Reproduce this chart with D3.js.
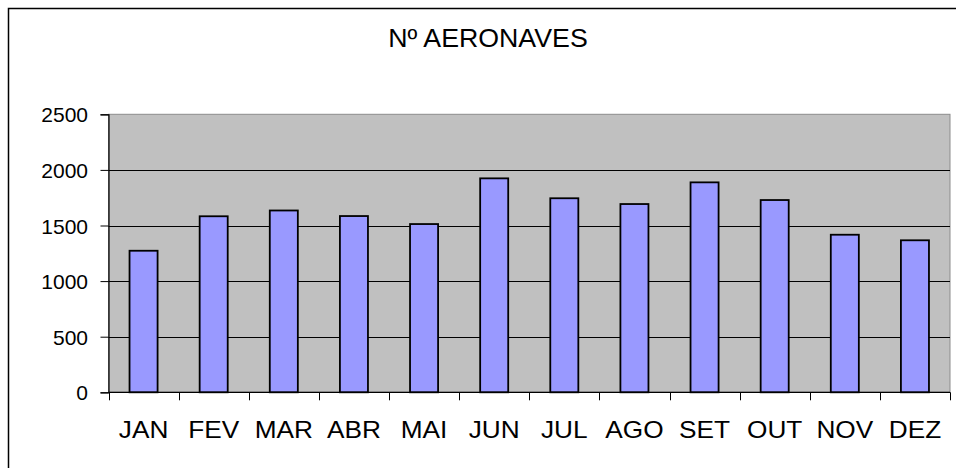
<!DOCTYPE html>
<html>
<head>
<meta charset="utf-8">
<script src="https://cdn.jsdelivr.net/npm/d3@7/dist/d3.min.js"></script>
<style>
  html, body { margin: 0; padding: 0; background: #fff; }
  svg { display: block; }
  text { font-family: "Liberation Sans", Arial, sans-serif; fill: #000; }
</style>
</head>
<body>
<svg id="chart" width="956" height="468"></svg>
<script>
const title = "Nº AERONAVES";
const months = ["JAN", "FEV", "MAR", "ABR", "MAI", "JUN", "JUL", "AGO", "SET", "OUT", "NOV", "DEZ"];
const aircraft = [1273, 1583, 1635, 1585, 1513, 1924, 1745, 1693, 1888, 1729, 1417, 1367];
const yTicks = [0, 500, 1000, 1500, 2000, 2500];

const svg = d3.select("#chart");
const W = 956, H = 468;
const plot = { left: 108.5, right: 950, top: 114.3, bottom: 392.3 };
const sx = 1.07; // horizontal text stretch seen in the reference

// outer frame
svg.append("rect")
  .attr("x", 8.5).attr("y", 8.5)
  .attr("width", W).attr("height", H)
  .attr("fill", "#fff").attr("stroke", "#000").attr("stroke-width", 1.5);

const x = d3.scaleBand().domain(months)
  .range([plot.left, plot.right])
  .paddingInner(0.6).paddingOuter(0.3);
const y = d3.scaleLinear().domain([0, 2500]).range([plot.bottom, plot.top]);

// plot background
svg.append("rect")
  .attr("x", plot.left).attr("y", plot.top)
  .attr("width", plot.right - plot.left).attr("height", plot.bottom - plot.top)
  .attr("fill", "#c0c0c0").attr("stroke", "#8c8c8c").attr("stroke-width", 1);

// gridlines
svg.append("g").selectAll("line").data(yTicks.filter(d => d > 0 && d < 2500)).join("line")
  .attr("x1", plot.left).attr("x2", plot.right)
  .attr("y1", d => Math.round(y(d)) + 0.5).attr("y2", d => Math.round(y(d)) + 0.5)
  .attr("stroke", "#000").attr("stroke-width", 1);

// bars
svg.append("g").selectAll("rect").data(aircraft).join("rect")
  .attr("x", (d, i) => x(months[i]))
  .attr("y", d => y(d))
  .attr("width", x.bandwidth())
  .attr("height", d => y(0) - y(d))
  .attr("fill", "#9999ff")
  .attr("stroke", "#000")
  .attr("stroke-width", 1.8);

// y axis
const yAxis = d3.axisLeft(y).tickValues(yTicks).tickSize(8).tickPadding(0).tickFormat(d3.format("d"));
const gy = svg.append("g").attr("transform", `translate(${plot.left},0)`).call(yAxis);
gy.select(".domain").attr("stroke", "#000").attr("stroke-width", 1.2);
gy.selectAll(".tick line").attr("stroke", "#000");
gy.selectAll(".tick text")
  .attr("x", null).attr("dy", null)
  .attr("font-size", 21).attr("font-family", "Liberation Sans, Arial, sans-serif").attr("fill", "#000")
  .attr("transform", "translate(-20.5,7.5)");

// x axis: ticks at category boundaries
const boundaries = d3.range(months.length + 1).map(i => plot.left + i * (plot.right - plot.left) / months.length);
svg.append("line")
  .attr("x1", plot.left).attr("x2", plot.right)
  .attr("y1", plot.bottom).attr("y2", plot.bottom)
  .attr("stroke", "#000").attr("stroke-width", 1.2);
svg.append("g").selectAll("line").data(boundaries).join("line")
  .attr("x1", d => Math.round(d) + 0.5).attr("x2", d => Math.round(d) + 0.5)
  .attr("y1", plot.bottom).attr("y2", plot.bottom + 8)
  .attr("stroke", "#000").attr("stroke-width", 1);
svg.append("g").selectAll("text").data(months).join("text")
  .attr("transform", d => `translate(${x(d) + x.bandwidth() / 2},437.5) scale(${sx},1)`)
  .attr("text-anchor", "middle")
  .attr("font-size", 24.5)
  .text(d => d);

// title
svg.append("text")
  .attr("transform", `translate(488,47.3) scale(${sx},1)`)
  .attr("text-anchor", "middle")
  .attr("font-size", 25)
  .text(title);
</script>
</body>
</html>
